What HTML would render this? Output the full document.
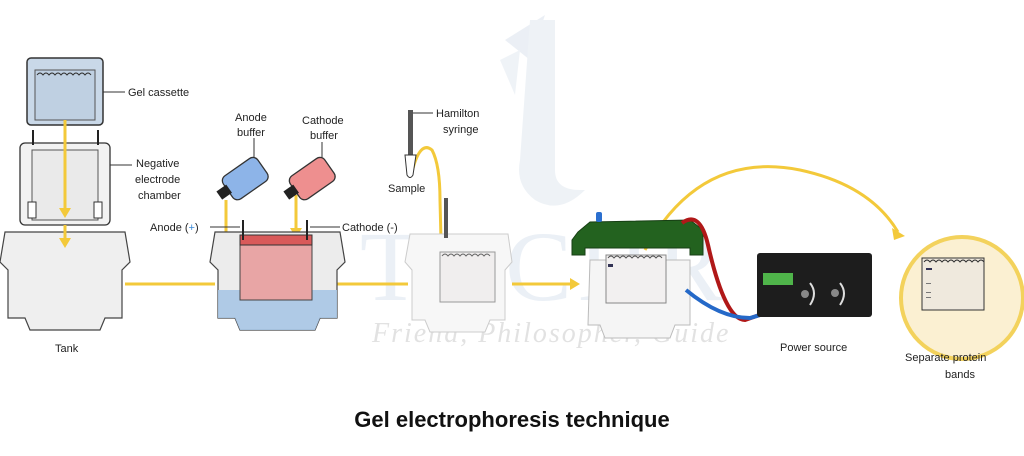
<!DOCTYPE html>
<html><head><meta charset="utf-8"><style>
html,body{margin:0;padding:0;background:#fff;}
svg{display:block;font-family:"Liberation Sans",sans-serif;}
.l{font-size:11px;fill:#222;}
</style></head><body>
<svg width="1024" height="456" viewBox="0 0 1024 456">
<!-- watermark -->
<g opacity="0.28">
<path d="M505 40 L545 15 L530 60 Z" fill="#b9c9dc"/>
<path d="M500 60 L520 50 L515 95 Z" fill="#c9d6e4"/>
<path d="M530 20 L555 20 L555 170 Q555 190 580 190 L585 190 Q560 215 535 200 Q515 185 520 160 Z" fill="#c4d3e2"/>
<text x="360" y="300" font-family="Liberation Serif,serif" font-size="100" fill="#b9cbe0" letter-spacing="6">TYCHR</text>
<text x="372" y="342" font-family="Liberation Serif,serif" font-style="italic" font-size="28" fill="#999" letter-spacing="2">Friend, Philosopher, Guide</text>
</g>
<!-- gel cassette -->
<rect x="27" y="58" width="76" height="67" rx="4" fill="#c9d8e8" stroke="#333" stroke-width="1.5"/>
<rect x="35" y="70" width="60" height="50" fill="#bfd0e2" stroke="#555" stroke-width="1"/>
<path d="M37 75 q3 -4 6 0 q3 -4 6 0 q3 -4 6 0 q3 -4 6 0 q3 -4 6 0 q3 -4 6 0 q3 -4 6 0 q3 -4 6 0 q3 -4 6 0" fill="none" stroke="#333"/>
<line x1="103" y1="92" x2="125" y2="92" stroke="#333"/>
<text class="l" x="128" y="96">Gel cassette</text>
<!-- negative electrode chamber -->
<rect x="20" y="143" width="90" height="82" rx="5" fill="#f2f2f2" stroke="#333" stroke-width="1.3"/>
<rect x="32" y="150" width="66" height="70" fill="#eaeaea" stroke="#555"/>
<line x1="33" y1="130" x2="33" y2="145" stroke="#222" stroke-width="2"/>
<line x1="98" y1="130" x2="98" y2="145" stroke="#222" stroke-width="2"/>
<rect x="28" y="202" width="8" height="16" fill="#fff" stroke="#333"/>
<rect x="94" y="202" width="8" height="16" fill="#fff" stroke="#333"/>
<line x1="110" y1="165" x2="132" y2="165" stroke="#333"/>
<text class="l" x="136" y="167">Negative</text>
<text class="l" x="135" y="183">electrode</text>
<text class="l" x="138" y="199">chamber</text>
<!-- tank -->
<path d="M5 232 L125 232 L130 262 L122 270 L122 318 L105 318 L100 330 L30 330 L25 318 L8 318 L8 270 L0 262 Z" fill="#efefef" stroke="#444" stroke-width="1.2"/>
<text class="l" x="55" y="352">Tank</text>
<!-- yellow arrows -->
<g stroke="#f3c93a" stroke-width="3" fill="none">
<line x1="65" y1="120" x2="65" y2="210"/>
<line x1="65" y1="225" x2="65" y2="240"/>
<line x1="125" y1="284" x2="215" y2="284"/>
<line x1="335" y1="284" x2="408" y2="284"/>
<line x1="512" y1="284" x2="570" y2="284"/>
<path d="M226 200 L226 290"/>
<path d="M296 195 L296 230"/>
<path d="M412 172 Q420 140 432 150 Q440 165 440 200 L441 240"/>
<path d="M645 250 Q700 150 800 170 Q870 185 898 232"/>
</g>
<g fill="#f3c93a">
<path d="M59 208 L71 208 L65 218 Z"/><path d="M59 238 L71 238 L65 248 Z"/>
<path d="M570 278 L580 284 L570 290 Z"/><path d="M290 228 L302 228 L296 238 Z"/>
<path d="M892 228 L905 236 L894 240 Z"/>
</g>
<!-- second tank -->
<path d="M215 232 L340 232 L345 262 L337 270 L337 318 L320 318 L315 330 L240 330 L235 318 L218 318 L218 270 L210 262 Z" fill="#ececec" stroke="#444" stroke-width="1.2"/>
<path d="M218 290 L337 290 L337 318 L320 318 L315 330 L240 330 L235 318 L218 318 Z" fill="#a9c7e6" opacity="0.9"/>
<rect x="240" y="235" width="72" height="65" fill="#e8a5a5" stroke="#444"/>
<rect x="240" y="235" width="72" height="10" fill="#d95a5a" stroke="#333"/>
<line x1="243" y1="220" x2="243" y2="240" stroke="#222" stroke-width="2"/>
<line x1="307" y1="220" x2="307" y2="240" stroke="#222" stroke-width="2"/>
<!-- bottles -->
<g transform="rotate(-35 245 180)"><rect x="225" y="165" width="42" height="28" rx="6" fill="#8db4e8" stroke="#333" stroke-width="1.3"/><rect x="215" y="173" width="12" height="10" fill="#222"/></g>
<g transform="rotate(-35 312 180)"><rect x="292" y="165" width="42" height="28" rx="6" fill="#ee8f8f" stroke="#333" stroke-width="1.3"/><rect x="282" y="173" width="12" height="10" fill="#222"/></g>
<line x1="254" y1="138" x2="254" y2="158" stroke="#333"/>
<line x1="322" y1="142" x2="322" y2="158" stroke="#333"/>
<text class="l" x="235" y="121">Anode</text><text class="l" x="237" y="136">buffer</text>
<text class="l" x="302" y="124">Cathode</text><text class="l" x="310" y="139">buffer</text>
<text class="l" x="150" y="231">Anode (<tspan fill="#3a8ad8">+</tspan>)</text>
<line x1="210" y1="227" x2="240" y2="227" stroke="#333"/>
<line x1="310" y1="227" x2="340" y2="227" stroke="#333"/>
<text class="l" x="342" y="231">Cathode (-)</text>
<!-- third faint tank -->
<path d="M410 234 L508 234 L512 262 L505 270 L505 320 L490 320 L485 332 L430 332 L425 320 L412 320 L412 270 L405 262 Z" fill="#f7f7f7" stroke="#ccc"/>
<rect x="440" y="252" width="55" height="50" fill="#f0eeee" stroke="#999"/>
<path d="M442 256 q3 -4 6 0 q3 -4 6 0 q3 -4 6 0 q3 -4 6 0 q3 -4 6 0 q3 -4 6 0 q3 -4 6 0 q3 -4 6 0" fill="none" stroke="#666"/>
<rect x="408" y="110" width="5" height="45" fill="#555"/>
<path d="M405 155 L416 155 L413 175 Q410 180 407 175 Z" fill="#fff" stroke="#333"/>
<rect x="444" y="198" width="4" height="40" fill="#555"/>
<line x1="413" y1="113" x2="433" y2="113" stroke="#333"/>
<text class="l" x="436" y="117">Hamilton</text><text class="l" x="443" y="133">syringe</text>
<text class="l" x="388" y="192">Sample</text>
<!-- fourth -->
<path d="M590 260 L690 260 L690 325 L675 325 L670 338 L605 338 L600 325 L588 325 Z" fill="#f5f5f5" stroke="#bbb"/>
<rect x="606" y="255" width="60" height="48" fill="#f2f0f0" stroke="#888"/>
<path d="M608 258 q3 -4 6 0 q3 -4 6 0 q3 -4 6 0 q3 -4 6 0 q3 -4 6 0 q3 -4 6 0 q3 -4 6 0 q3 -4 6 0 q3 -4 6 0" fill="none" stroke="#555"/>
<rect x="608" y="264" width="5" height="3" fill="#335"/>
<path d="M578 232 L590 222 L690 220 L703 230 L703 255 L690 255 L690 248 L585 248 L585 255 L572 255 L572 240 Z" fill="#23621f" stroke="#173f14"/>
<rect x="596" y="212" width="6" height="10" rx="2" fill="#2b6fcf"/>
<path d="M682 223 Q700 210 708 245 Q725 320 745 320 L768 312" fill="none" stroke="#b01818" stroke-width="4"/>
<path d="M686 290 Q720 318 750 318 L790 306" fill="none" stroke="#2569c8" stroke-width="4"/>
<!-- power source -->
<rect x="757" y="253" width="115" height="64" rx="3" fill="#1d1d1d"/>
<rect x="763" y="273" width="30" height="12" fill="#4fb44a"/>
<circle cx="805" cy="294" r="4" fill="#888"/><circle cx="835" cy="293" r="4" fill="#888"/>
<path d="M810 283 Q818 293 810 305" fill="none" stroke="#ddd" stroke-width="2"/>
<path d="M840 283 Q848 293 840 305" fill="none" stroke="#ddd" stroke-width="2"/>
<text class="l" x="780" y="351">Power source</text>
<!-- result circle -->
<circle cx="962" cy="298" r="61" fill="#fbf0d2" stroke="#f3d25c" stroke-width="4"/>
<rect x="922" y="258" width="62" height="52" fill="#efe9dd" stroke="#333"/>
<path d="M924 262 q3 -4 6 0 q3 -4 6 0 q3 -4 6 0 q3 -4 6 0 q3 -4 6 0 q3 -4 6 0 q3 -4 6 0 q3 -4 6 0 q3 -4 6 0 q3 -4 6 0" fill="none" stroke="#333"/>
<rect x="926" y="268" width="6" height="2" fill="#335"/>
<rect x="926" y="283" width="5" height="1" fill="#777"/><rect x="926" y="292" width="5" height="1" fill="#777"/><rect x="926" y="297" width="5" height="1" fill="#777"/>
<text class="l" x="905" y="361">Separate protein</text>
<text class="l" x="945" y="378">bands</text>
<text x="512" y="427" text-anchor="middle" font-size="22" font-weight="bold" fill="#111">Gel electrophoresis technique</text>
</svg>
</body></html>
